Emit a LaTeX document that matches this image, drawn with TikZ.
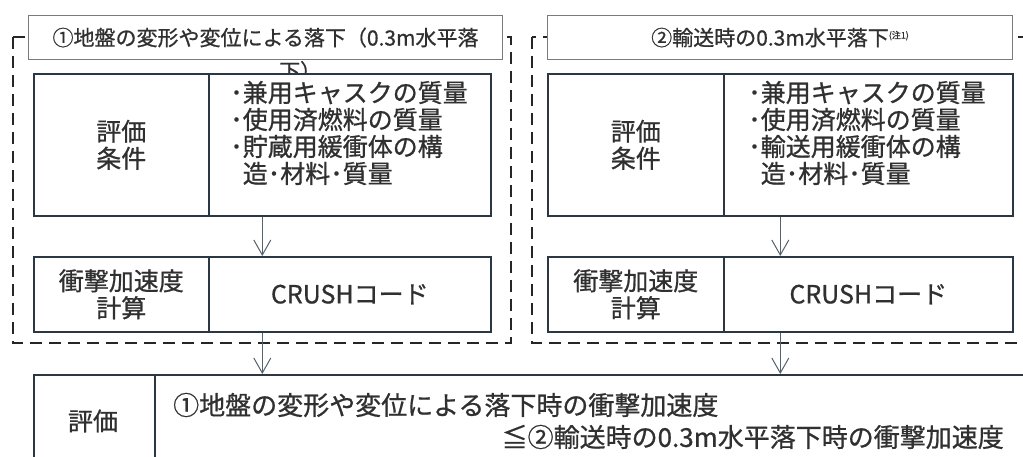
\documentclass[tikz,border=0pt]{standalone}
\usepackage{fontspec}
\setmainfont{Noto Sans CJK JP}[FakeBold=0.8]
\usetikzlibrary{arrows.meta,calc}
\definecolor{boxline}{HTML}{2B3742}
\definecolor{txt}{HTML}{303030}
\definecolor{arrc}{HTML}{56626E}
\definecolor{titleline}{HTML}{7A7A7A}
\begin{document}
\begin{tikzpicture}[x=1pt,y=-1pt,
  cell/.style={draw=boxline,line width=1.6pt,fill=white,inner sep=0pt,text=txt,anchor=north west,align=center},
  titlebox/.style={draw=titleline,line width=1.1pt,fill=white,inner sep=0pt,text=txt,anchor=north west,align=center,font=\fontsize{21}{24}\selectfont},
  celltext/.style={font=\fontsize{25}{27}\selectfont},
  bigtext/.style={text=txt,inner sep=0pt,font=\fontsize{26}{28}\selectfont},
  dashframe/.style={draw=black!85,line width=1.8pt,dash pattern=on 12pt off 7pt},
  arr/.style={draw=arrc,line width=1pt,-{Straight Barb[length=15pt,width=17pt,line width=1pt]}}]
\useasboundingbox (0,0) rectangle (1023,457);
\clip (0,0) rectangle (1023,457);
\fill[white] (0,0) rectangle (1023,457);
% dashed frames
\draw[dashframe] (13,37) rectangle (511,343);
\draw[dashframe] (532,37) rectangle (1045,343);
% titles
\node[titlebox,minimum width=474pt,minimum height=44pt] (titleL) at (28,15) {\raisebox{-2pt}{①地盤の変形や変位による落下（0.3m水平落}};
\node[text=txt,inner sep=0pt,anchor=west,font=\fontsize{21}{24}\selectfont] (titleLb) at (279,71) {下）};
\node[titlebox,minimum width=465pt,minimum height=44pt] (titleR) at (547,15) {\raisebox{-2pt}{②輸送時の0.3m水平落下\raisebox{7pt}{\fontsize{9}{9}\selectfont (注1)}}};
% left condition boxes
\node[cell,celltext,minimum width=175pt,minimum height=142pt] (condLa) at (33,73) {評価\\条件};
\node[cell,minimum width=282pt,minimum height=142pt] (condLb) at (208,73) {};
\node[text=txt,inner sep=0pt,align=left,celltext,anchor=center] (condLt) at (349,133) {･兼用キャスクの質量\\･使用済燃料の質量\\･貯蔵用緩衝体の構\\\phantom{･}造･材料･質量};
% right condition boxes
\node[cell,celltext,minimum width=176pt,minimum height=142pt] (condRa) at (547,73) {評価\\条件};
\node[cell,minimum width=289pt,minimum height=142pt] (condRb) at (723,73) {};
\node[text=txt,inner sep=0pt,align=left,celltext,anchor=center] (condRt) at (867,133) {･兼用キャスクの質量\\･使用済燃料の質量\\･輸送用緩衝体の構\\\phantom{･}造･材料･質量};
% crush boxes
\node[cell,celltext,minimum width=175pt,minimum height=75pt] (crushLa) at (33,256) {衝撃加速度\\計算};
\node[cell,celltext,minimum width=282pt,minimum height=75pt] (crushLb) at (208,256) {CRUSHコード};
\node[cell,celltext,minimum width=176pt,minimum height=75pt] (crushRa) at (547,256) {衝撃加速度\\計算};
\node[cell,celltext,minimum width=289pt,minimum height=75pt] (crushRb) at (723,256) {CRUSHコード};
% evaluation box
\node[cell,minimum width=121pt,minimum height=110pt] (evalA) at (33,374) {};
\node[text=txt,inner sep=0pt,font=\fontsize{25}{27}\selectfont] (evalAt) at (93,421) {評価};
\node[cell,minimum width=900pt,minimum height=110pt] (evalB) at (154,374) {};
\node[bigtext,anchor=west] (line1) at (173,405) {①地盤の変形や変位による落下時の衝撃加速度};
\node[bigtext,anchor=east] (line2) at (1004,437) {≦②輸送時の0.3m水平落下時の衝撃加速度};
% arrows
\coordinate (cL) at ($(condLa.south west)!0.5!(condLb.south east)$);
\coordinate (cR) at ($(condRa.south west)!0.5!(condRb.south east)$);
\draw[arr] (cL) -- (cL |- crushLb.north);
\draw[arr] (cR) -- (cR |- crushRb.north);
\draw[arr] (cL |- crushLb.south) -- (cL |- evalB.north);
\draw[arr] (cR |- crushRb.south) -- (cR |- evalB.north);
\end{tikzpicture}
\end{document}
